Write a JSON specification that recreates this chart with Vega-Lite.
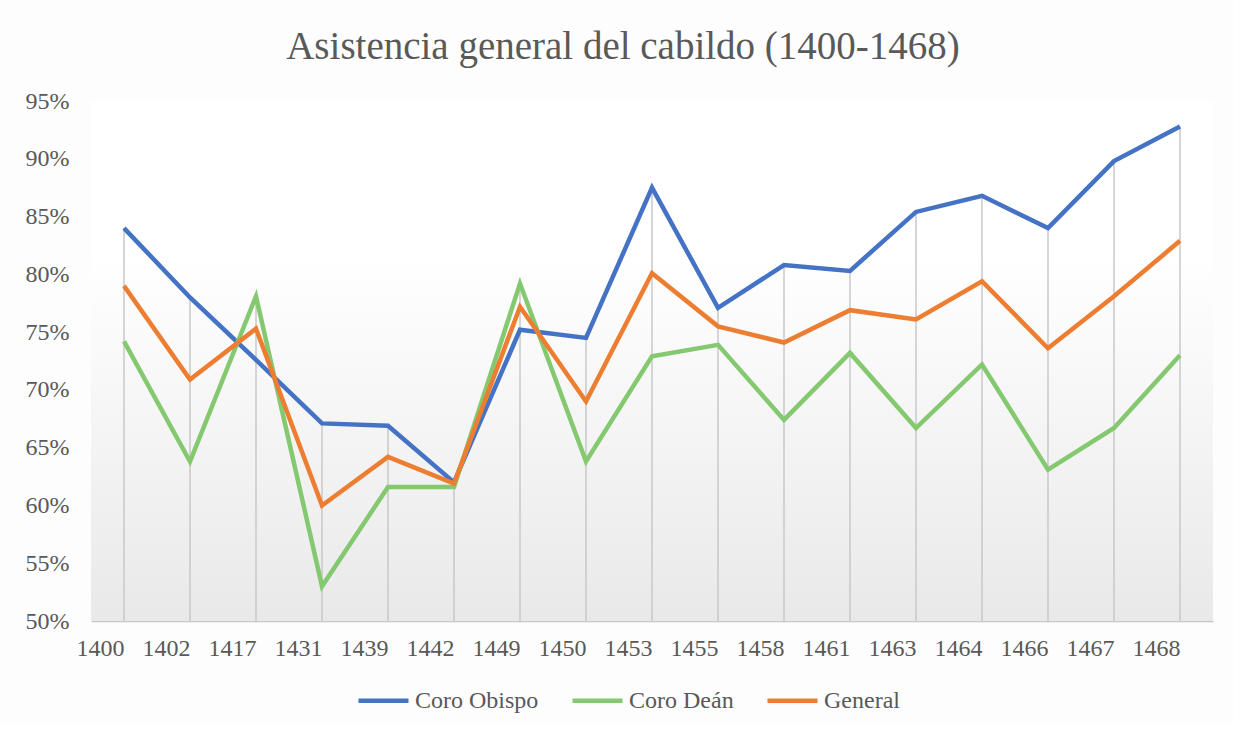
{
  "$schema": "https://vega.github.io/schema/vega-lite/v6.json",
  "width": 1122,
  "height": 520,
  "padding": {"left": 25, "top": 28, "right": 20, "bottom": 10},
  "background": "#fdfdfd",
  "title": {
    "text": "Asistencia general del cabildo (1400-1468)",
    "font": "Liberation Serif",
    "fontSize": 39,
    "fontWeight": "normal",
    "color": "#595959",
    "anchor": "middle",
    "dx": -29,
    "offset": 22
  },
  "config": {
    "view": {"stroke": null},
    "font": "Liberation Serif"
  },
  "data": {
    "values": [
      {"year": "1400", "serie": "Coro Obispo", "value": 0.840},
      {"year": "1402", "serie": "Coro Obispo", "value": 0.780},
      {"year": "1417", "serie": "Coro Obispo", "value": 0.726},
      {"year": "1431", "serie": "Coro Obispo", "value": 0.671},
      {"year": "1439", "serie": "Coro Obispo", "value": 0.669},
      {"year": "1442", "serie": "Coro Obispo", "value": 0.620},
      {"year": "1449", "serie": "Coro Obispo", "value": 0.752},
      {"year": "1450", "serie": "Coro Obispo", "value": 0.745},
      {"year": "1453", "serie": "Coro Obispo", "value": 0.875},
      {"year": "1455", "serie": "Coro Obispo", "value": 0.771},
      {"year": "1458", "serie": "Coro Obispo", "value": 0.808},
      {"year": "1461", "serie": "Coro Obispo", "value": 0.803},
      {"year": "1463", "serie": "Coro Obispo", "value": 0.854},
      {"year": "1464", "serie": "Coro Obispo", "value": 0.868},
      {"year": "1466", "serie": "Coro Obispo", "value": 0.840},
      {"year": "1467", "serie": "Coro Obispo", "value": 0.898},
      {"year": "1468", "serie": "Coro Obispo", "value": 0.928},
      {"year": "1400", "serie": "Coro Deán", "value": 0.742},
      {"year": "1402", "serie": "Coro Deán", "value": 0.638},
      {"year": "1417", "serie": "Coro Deán", "value": 0.781},
      {"year": "1431", "serie": "Coro Deán", "value": 0.530},
      {"year": "1439", "serie": "Coro Deán", "value": 0.616},
      {"year": "1442", "serie": "Coro Deán", "value": 0.616},
      {"year": "1449", "serie": "Coro Deán", "value": 0.792},
      {"year": "1450", "serie": "Coro Deán", "value": 0.638},
      {"year": "1453", "serie": "Coro Deán", "value": 0.729},
      {"year": "1455", "serie": "Coro Deán", "value": 0.739},
      {"year": "1458", "serie": "Coro Deán", "value": 0.674},
      {"year": "1461", "serie": "Coro Deán", "value": 0.732},
      {"year": "1463", "serie": "Coro Deán", "value": 0.667},
      {"year": "1464", "serie": "Coro Deán", "value": 0.722},
      {"year": "1466", "serie": "Coro Deán", "value": 0.631},
      {"year": "1467", "serie": "Coro Deán", "value": 0.667},
      {"year": "1468", "serie": "Coro Deán", "value": 0.730},
      {"year": "1400", "serie": "General", "value": 0.790},
      {"year": "1402", "serie": "General", "value": 0.709},
      {"year": "1417", "serie": "General", "value": 0.753},
      {"year": "1431", "serie": "General", "value": 0.600},
      {"year": "1439", "serie": "General", "value": 0.642},
      {"year": "1442", "serie": "General", "value": 0.619},
      {"year": "1449", "serie": "General", "value": 0.772},
      {"year": "1450", "serie": "General", "value": 0.690},
      {"year": "1453", "serie": "General", "value": 0.801},
      {"year": "1455", "serie": "General", "value": 0.755},
      {"year": "1458", "serie": "General", "value": 0.741},
      {"year": "1461", "serie": "General", "value": 0.769},
      {"year": "1463", "serie": "General", "value": 0.761},
      {"year": "1464", "serie": "General", "value": 0.794},
      {"year": "1466", "serie": "General", "value": 0.736},
      {"year": "1467", "serie": "General", "value": 0.781},
      {"year": "1468", "serie": "General", "value": 0.829}
    ]
  },
  "layer": [
    {
      "mark": {
        "type": "rect",
        "color": {
          "gradient": "linear",
          "x1": 0, "y1": 0, "x2": 0, "y2": 1,
          "stops": [
            {"offset": 0, "color": "#ffffff"},
            {"offset": 0.3, "color": "#ffffff"},
            {"offset": 1, "color": "#e9e9e9"}
          ]
        }
      },
      "encoding": {
        "y": {"datum": 0.95, "type": "quantitative"},
        "y2": {"datum": 0.5}
      }
    },
    {
      "mark": {"type": "rule", "color": "#c9c9c9", "strokeWidth": 1.5},
      "encoding": {
        "x": {"field": "year", "type": "ordinal"},
        "y": {"aggregate": "max", "field": "value", "type": "quantitative"},
        "y2": {"datum": 0.5}
      }
    },
    {
      "mark": {"type": "line", "strokeWidth": 4.5, "strokeJoin": "miter"},
      "encoding": {
        "x": {
          "field": "year",
          "type": "ordinal",
          "scale": {"type": "point", "padding": 0.5},
          "axis": {
            "title": null,
            "labelAngle": 0,
            "labelFontSize": 24,
            "labelColor": "#595959",
            "labelPadding": 27,
            "labelBaseline": "middle",
            "ticks": false,
            "grid": false,
            "domainColor": "#c8c8c8",
            "domainWidth": 1.5
          }
        },
        "y": {
          "field": "value",
          "type": "quantitative",
          "scale": {"domain": [0.5, 0.95], "nice": false, "zero": false},
          "axis": {
            "title": null,
            "format": ".0%",
            "values": [0.5, 0.55, 0.6, 0.65, 0.7, 0.75, 0.8, 0.85, 0.9, 0.95],
            "grid": false,
            "domain": false,
            "ticks": false,
            "labelFontSize": 24,
            "labelColor": "#595959",
            "labelPadding": 22,
            "minExtent": 65,
            "maxExtent": 65
          }
        },
        "color": {
          "field": "serie",
          "type": "nominal",
          "scale": {
            "domain": ["Coro Obispo", "Coro Deán", "General"],
            "range": ["#4472C4", "#84C870", "#ED7D31"]
          },
          "legend": {
            "title": null,
            "orient": "none",
            "legendX": 265,
            "legendY": 572,
            "direction": "horizontal",
            "symbolType": "stroke",
            "symbolSize": 2500,
            "symbolStrokeWidth": 4.5,
            "labelFontSize": 24,
            "labelColor": "#595959",
            "labelOffset": 4,
            "columnPadding": 24
          }
        }
      }
    }
  ]
}
